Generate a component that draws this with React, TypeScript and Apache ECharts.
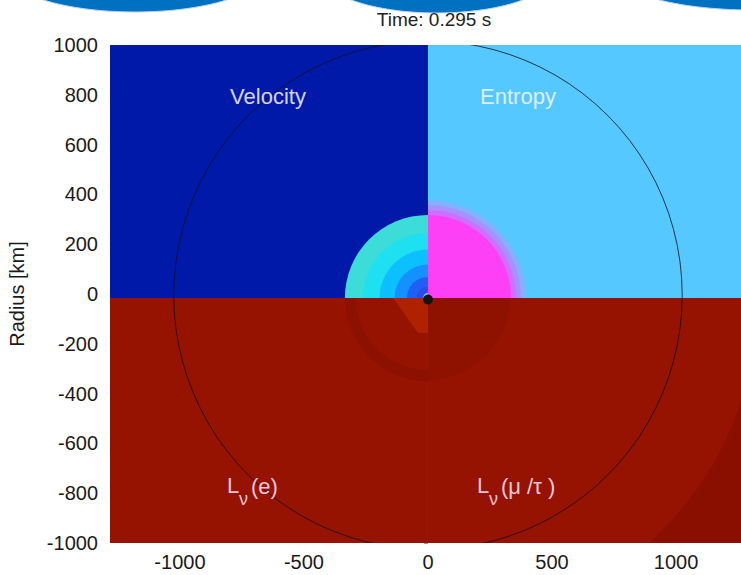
import React, { useEffect, useRef } from 'react';
import * as echarts from 'echarts';

// ---- axes ----
const xTickValues = [-1000, -500, 0, 500, 1000];
const xMin = -1282;
const xMax = 1262;
const yMin = -1000;
const yMax = 1000;
const yInterval = 200;

// ---- field origin (km) ----
const originX = 0;
const originY = -16;

// ---- quadrant backgrounds: 0 velocity (UL), 1 entropy (UR), 2 Lν(μ/τ) (LR), 3 Lν(e) (LL) ----
const quadX0 = [-1282, 0, 0, -1282];
const quadX1 = [0, 1262, 1262, 0];
const quadY0 = [-16, -16, -1000, -1000];
const quadY1 = [1000, 1000, -16, -16];
const quadColors = ['#0119A9', '#55C8FF', '#951300', '#951300'];

// ---- radial bands (km), drawn in order ----
const bandQuadrant = [0, 0, 0, 0, 0, 0, 0, 1, 1, 1, 1, 2, 2, 3];
const bandInner = [0, 0, 0, 0, 0, 0, 0, 0, 0, 0, 0, 1330, 0, 290];
const bandOuter = [335, 262, 195, 135, 85, 45, 20, 395, 375, 355, 335, 3000, 330, 335];
const bandColors = [
  '#3CDDD8', '#1EE0F0', '#0CC0FF', '#1490FF', '#1E60F5', '#2A4CE8', '#6CE0C8',
  '#84B0FF', '#A890FF', '#D06EFF', '#FD40F6',
  '#8A0F00', '#8F1200', '#8C1100',
];

// ---- wedge in Lν(e) quadrant (km) ----
const wedgeX = [-141, 0, 0, -40];
const wedgeY = [-16, -16, -157, -157];
const wedgeColor = '#AE2200';

// ---- core dot and outer circle (km) ----
const coreDot = [0, -22, 20];
const outerCircle = [0, -5, 1025];

const titleText = 'Time: 0.295 s';
const yAxisName = 'Radius [km]';

export default function App() {
  const ref = useRef<HTMLDivElement>(null);

  useEffect(() => {
    if (!ref.current) return;
    const chart = echarts.init(ref.current, null, { renderer: 'svg' });
    const font = 'Liberation Sans, Arial, Helvetica, sans-serif';

    const quadData = quadX0.map((x0, i) => [x0, quadY0[i], quadX1[i], quadY1[i]]);
    const bandData = bandOuter.map((r) => [originX, originY, r]);
    const startAngles = [Math.PI, 1.5 * Math.PI, 0, 0.5 * Math.PI];
    const plain = (v: number) => String(v);
    const label = (text: string, x: number, y: number, size: number, fill: string, align = 'left') => ({
      type: 'text',
      z: 100,
      x,
      y,
      style: { text, fontSize: size, fill, fontFamily: font, align, verticalAlign: 'middle' },
    });

    const option: any = {
      animation: false,
      backgroundColor: '#ffffff',
      grid: { left: 110, right: 0, top: 45, bottom: 32, containLabel: false, outerBoundsMode: 'none' },
      xAxis: {
        type: 'value',
        min: xMin,
        max: xMax,
        axisLine: { show: false },
        splitLine: { show: false },
        axisTick: { show: false, customValues: xTickValues },
        axisLabel: {
          customValues: xTickValues,
          formatter: plain,
          fontSize: 20,
          color: '#1a1a1a',
          fontFamily: font,
          margin: 9,
        },
      },
      yAxis: {
        type: 'value',
        min: yMin,
        max: yMax,
        interval: yInterval,
        name: yAxisName,
        nameLocation: 'middle',
        nameGap: 83,
        nameTextStyle: { fontSize: 20, color: '#1a1a1a', fontFamily: font },
        axisLine: { show: false },
        splitLine: { show: false },
        axisTick: { show: true, length: 4, lineStyle: { color: '#999' } },
        axisLabel: { formatter: plain, fontSize: 20, color: '#1a1a1a', fontFamily: font, margin: 12 },
      },
      series: [
        {
          type: 'custom',
          clip: true,
          data: quadData,
          renderItem: (params: any, api: any) => {
            const p0 = api.coord([api.value(0), api.value(3)]);
            const p1 = api.coord([api.value(2), api.value(1)]);
            return {
              type: 'rect',
              shape: { x: p0[0], y: p0[1], width: p1[0] - p0[0], height: p1[1] - p0[1] },
              style: { fill: quadColors[params.dataIndex] },
            };
          },
        },
        {
          type: 'custom',
          clip: true,
          data: bandData,
          renderItem: (params: any, api: any) => {
            const i = params.dataIndex;
            const c = api.coord([api.value(0), api.value(1)]);
            const r = api.size([bandOuter[i], 0])[0];
            const r0 = api.size([bandInner[i], 0])[0];
            const s = startAngles[bandQuadrant[i]];
            return {
              type: 'sector',
              shape: { cx: c[0], cy: c[1], r, r0, startAngle: s, endAngle: s + Math.PI / 2, clockwise: true },
              style: { fill: bandColors[i] },
            };
          },
        },
        {
          type: 'custom',
          clip: true,
          data: [wedgeX.map((x, i) => [x, wedgeY[i]]).flat()],
          renderItem: (params: any, api: any) => {
            const pts = wedgeX.map((x, i) => api.coord([x, wedgeY[i]]));
            return { type: 'polygon', shape: { points: pts }, style: { fill: wedgeColor } };
          },
        },
        {
          type: 'custom',
          clip: true,
          data: [coreDot],
          renderItem: (params: any, api: any) => {
            const c = api.coord([api.value(0), api.value(1)]);
            const r = api.size([api.value(2), 0])[0];
            return { type: 'circle', shape: { cx: c[0], cy: c[1], r }, style: { fill: '#141414' } };
          },
        },
        {
          type: 'custom',
          clip: true,
          data: [outerCircle],
          renderItem: (params: any, api: any) => {
            const c = api.coord([api.value(0), api.value(1)]);
            const r = api.size([api.value(2), 0])[0];
            return {
              type: 'circle',
              shape: { cx: c[0], cy: c[1], r },
              style: { fill: 'none', stroke: 'rgba(20,15,30,0.8)', lineWidth: 1 },
            };
          },
        },
      ],
      graphic: [
        { type: 'ellipse', z: 100, shape: { cx: 135, cy: -28, rx: 128, ry: 40 }, style: { fill: '#0070C0', stroke: '#B8D4EC', lineWidth: 1 } },
        { type: 'ellipse', z: 100, shape: { cx: 437, cy: -27, rx: 116, ry: 40 }, style: { fill: '#0070C0', stroke: '#B8D4EC', lineWidth: 1 } },
        { type: 'ellipse', z: 100, shape: { cx: 752, cy: -30, rx: 140, ry: 40 }, style: { fill: '#0070C0', stroke: '#B8D4EC', lineWidth: 1 } },
        label(titleText, 434, 19, 19, '#222', 'center'),
        label('Velocity', 268, 96, 22, '#D4D4FF', 'center'),
        label('Entropy', 518, 96, 22, '#DDEFFF', 'center'),
        label('L', 227, 485, 22, '#EEC4DA'),
        label('ν', 239, 499, 18, '#EEC4DA'),
        label('(e)', 251, 486, 22, '#EEC4DA'),
        label('L', 477, 485, 22, '#EEC4DA'),
        label('ν', 489, 499, 18, '#EEC4DA'),
        label('(μ /τ )', 501, 486, 22, '#EEC4DA'),
      ],
    };

    chart.setOption(option);
    return () => chart.dispose();
  }, []);

  return <div ref={ref} style={{ position: 'absolute', left: 0, top: 0, width: 741, height: 575 }} />;
}
